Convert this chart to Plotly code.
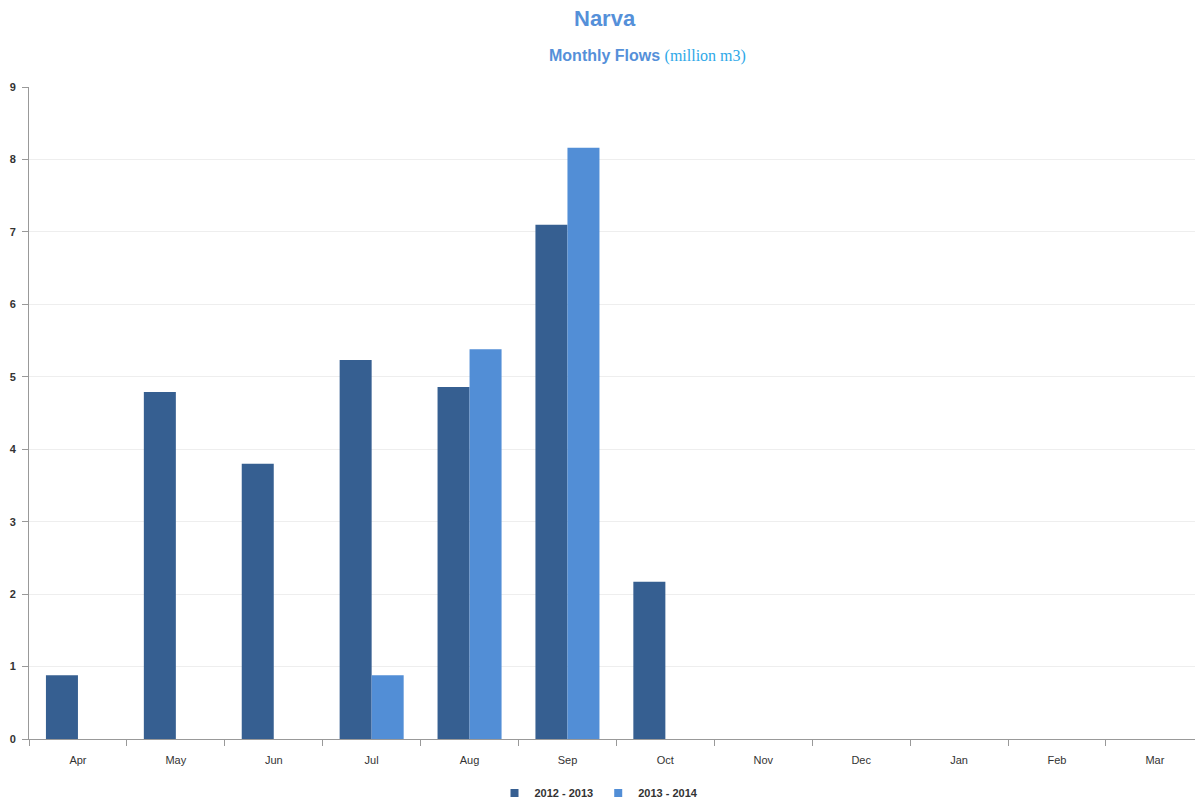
import plotly.graph_objects as go

months = ["Apr", "May", "Jun", "Jul", "Aug", "Sep", "Oct", "Nov", "Dec", "Jan", "Feb", "Mar"]
flows_2012_2013 = [0.88, 4.79, 3.80, 5.23, 4.86, 7.10, 2.17, 0, 0, 0, 0, 0]
flows_2013_2014 = [None, None, None, 0.88, 5.38, 8.16, None, None, None, None, None, None]
y_ticks = list(range(0, 10))
series_names = ["2012 - 2013", "2013 - 2014"]

c1 = "#365F91"
c2 = "#528ED6"

W, H = 1195, 801
ML, MR, MT, MB = 29, 0, 87, 62
ph = H - MT - MB
pw = W - ML - MR

fig = go.Figure()
fig.add_trace(go.Bar(x=months, y=flows_2012_2013, name=series_names[0], showlegend=False,
                     marker=dict(color=c1, line=dict(width=0))))
fig.add_trace(go.Bar(x=months, y=flows_2013_2014, name=series_names[1], showlegend=False,
                     marker=dict(color=c2, line=dict(width=0))))
# legend entries with small square markers
for nm, col in zip(series_names, [c1, c2]):
    fig.add_trace(go.Scatter(x=[None], y=[None], mode="markers", name="<b>" + nm + "</b>",
                             marker=dict(symbol="square", size=8, color=col)))

def py(p):
    return 1 + (MT - p) / ph

def px(p):
    return (p - ML) / pw

fig.update_layout(
    width=W, height=H,
    margin=dict(l=ML, r=MR, t=MT, b=MB, autoexpand=False),
    paper_bgcolor="white", plot_bgcolor="white",
    barmode="group", bargap=0.346, bargroupgap=0,
    font=dict(family="Arial, Liberation Sans, sans-serif", size=11, color="#333"),
    showlegend=True,
    legend=dict(orientation="h", x=px(599), xanchor="center", y=py(793), yanchor="middle",
                font=dict(size=11, color="#333", family="Arial, Liberation Sans, sans-serif"),
                itemwidth=30, traceorder="normal"),
)
fig.add_annotation(text="<b>Narva</b>", x=px(605), xref="paper", y=py(18), yref="paper",
                   yanchor="middle", showarrow=False, font=dict(size=22, color="#5590D9"))
fig.add_annotation(
    text="<b>Monthly Flows</b> <span style='font-family:Liberation Serif, Times New Roman, serif;color:#2EA8E8;font-size:16px;font-weight:normal'>(million m3)</span>",
    x=px(647), xref="paper", y=py(56), yref="paper", yanchor="middle", showarrow=False,
    font=dict(size=16, color="#5590D9"))

fig.update_xaxes(
    range=[-0.5, 11.41],
    showline=True, linecolor="#999", linewidth=1,
    ticks="outside", tickson="boundaries", ticklen=6, tickcolor="#999",
    ticklabelstandoff=11,
    showgrid=False, tickfont=dict(size=11, color="#333"),
)
fig.update_yaxes(
    range=[0, 9], tickvals=y_ticks, ticktext=["<b>%d</b>" % v for v in y_ticks],
    showline=True, linecolor="#999", linewidth=1,
    ticks="outside", ticklen=6, tickcolor="#999", ticklabelstandoff=4,
    showgrid=True, gridcolor="#EEEEEE", gridwidth=1, zeroline=False,
    tickfont=dict(size=11, color="#333"),
)

fig.write_html("out.html")
